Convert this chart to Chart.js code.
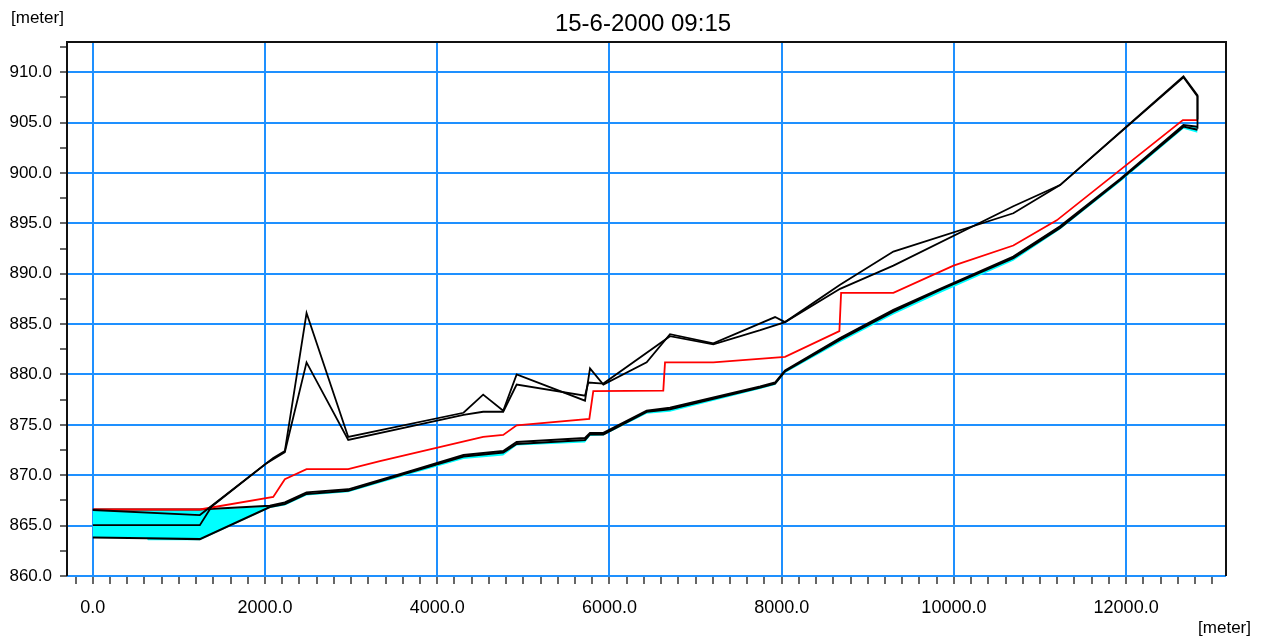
<!DOCTYPE html>
<html>
<head>
<meta charset="utf-8">
<script src="https://cdn.jsdelivr.net/npm/chart.js@4/dist/chart.umd.min.js"></script>
<style>
html,body{margin:0;padding:0;background:#fff;}
#wrap{width:1265px;height:641px;position:relative;}
</style>
</head>
<body>
<div id="wrap"><canvas id="c" width="1265" height="641"></canvas></div>
<script>
// ---- data (chainage in meter, level in meter) ----
const titleText = "15-6-2000 09:15";
const yUnit = "[meter]";
const xUnit = "[meter]";

const bankAX = [0, 1243, 2095, 2230, 2482, 2966, 4305, 4533, 4766, 4922, 5716, 5774, 5929, 6432, 6703, 7206, 7923, 8039, 8678, 9297, 10690, 11233, 12666, 12829, 12829];
const bankAY = [866.55, 866.05, 871.7, 872.4, 886.1, 873.8, 876.2, 878.0, 876.4, 880.0, 877.4, 880.6, 879.0, 881.2, 884.0, 883.1, 885.7, 885.2, 888.9, 892.2, 896.0, 898.8, 909.6, 907.7, 904.4];

const bankBX = [0, 1243, 1380, 2018, 2230, 2482, 2966, 4305, 4533, 4766, 4922, 5716, 5754, 5929, 6703, 7206, 7751, 8039, 8678, 9297, 10690, 11233, 12666, 12829, 12829];
const bankBY = [865.05, 865.05, 866.9, 871.2, 872.3, 881.2, 873.5, 876.0, 876.3, 876.3, 879.0, 877.9, 879.2, 879.1, 883.8, 883.0, 884.4, 885.2, 888.5, 890.8, 896.7, 898.8, 909.5, 907.6, 905.3];

const waterX = [0, 1243, 2095, 2230, 2482, 2966, 3334, 4533, 4766, 4922, 5766, 5812, 6625, 6645, 7206, 8039, 8670, 8690, 9297, 9995, 10690, 11194, 12659, 12829];
const waterY = [866.6, 866.6, 867.85, 869.6, 870.6, 870.6, 871.4, 873.8, 874.0, 874.95, 875.6, 878.35, 878.4, 881.2, 881.2, 881.75, 884.3, 888.1, 888.1, 890.8, 892.8, 895.3, 905.25, 905.25];

const bed1X = [0, 1243, 2056, 2230, 2482, 2966, 3683, 4305, 4766, 4922, 5716, 5774, 5929, 6432, 6703, 7751, 7923, 8039, 8678, 9297, 9840, 10690, 11233, 11931, 12666, 12829];
const bed1Y = [866.6, 866.6, 866.97, 867.3, 868.3, 868.6, 870.4, 872.0, 872.4, 873.3, 873.7, 874.2, 874.2, 876.4, 876.7, 878.8, 879.2, 880.4, 883.6, 886.4, 888.5, 891.7, 894.7, 899.4, 904.75, 904.6];

const bed2X = [0, 620, 1243, 2056, 2230, 2482, 2966, 3683, 4305, 4766, 4922, 5716, 5774, 5929, 6432, 6703, 7751, 7923, 8039, 8678, 9297, 9840, 10690, 11233, 11931, 12666, 12829];
const bed2Y = [863.83, 863.75, 863.66, 866.85, 867.15, 868.15, 868.45, 870.3, 871.85, 872.25, 873.1, 873.5, 874.05, 874.05, 876.3, 876.55, 878.7, 879.1, 880.3, 883.45, 886.25, 888.4, 891.55, 894.55, 899.3, 904.6, 904.3];

const fillTopX = [0, 1243, 2056, 2230, 2482, 2966, 3683, 4305, 4766, 4922, 5716, 5774, 5929, 6432, 6703, 7751, 7923, 8039, 8678, 9297, 9840, 10690, 11233, 11931, 12666, 12829];
const fillTopY = [866.5, 866.5, 866.9, 867.15, 868.15, 868.45, 870.3, 871.85, 872.25, 873.1, 873.5, 874.05, 874.05, 876.3, 876.55, 878.7, 879.1, 880.3, 883.45, 886.25, 888.4, 891.55, 894.55, 899.3, 904.6, 904.6];

const fillBotX = [0, 620, 640, 1243, 2056, 2230, 2482, 2966, 3683, 4305, 4766, 4922, 5716, 5774, 5929, 6432, 6703, 7751, 7923, 8039, 8678, 9297, 9840, 10690, 11233, 11931, 12666, 12829];
const fillBotY = [863.83, 863.8, 863.55, 863.55, 866.75, 867.0, 868.0, 868.3, 870.1, 871.6, 871.95, 872.95, 873.25, 873.9, 873.95, 876.1, 876.3, 878.55, 878.95, 880.15, 883.2, 885.95, 888.1, 891.3, 894.4, 899.1, 904.4, 904.0];

const xMin = -300, xMax = 13160, xMinorStep = 200, xMajorStep = 2000;
const yMin = 860, yMax = 913, yMinorStep = 2.5, yMajorStep = 5;

function pts(xs, ys) { return xs.map((x, i) => ({x: x, y: ys[i]})); }
function range(a, b, s) { const r = []; for (let v = a; v <= b + 1e-9; v += s) r.push(Math.round(v * 100) / 100); return r; }
const isMajor = (v, s) => Math.abs(v / s - Math.round(v / s)) < 1e-6;

const FONT = "'Liberation Sans', Arial, sans-serif";
const GRID = 'rgb(30,144,255)';

const framePlugin = {
  id: 'frame',
  beforeDatasetsDraw(chart) {
    const a = chart.chartArea, ctx = chart.ctx;
    ctx.save();
    ctx.strokeStyle = '#111';
    ctx.lineWidth = 2;
    ctx.beginPath();
    ctx.moveTo(a.left, a.bottom);
    ctx.lineTo(a.left, a.top);
    ctx.lineTo(a.right, a.top);
    ctx.lineTo(a.right, a.bottom);
    ctx.stroke();
    ctx.restore();
  },
  afterDraw(chart) {
    const ctx = chart.ctx;
    ctx.save();
    ctx.fillStyle = '#000';
    ctx.textBaseline = 'middle';
    ctx.font = '24px ' + FONT;
    ctx.textAlign = 'center';
    ctx.fillText(titleText, 643, 24);
    ctx.font = '17px ' + FONT;
    ctx.textAlign = 'left';
    ctx.fillText(yUnit, 11, 18);
    ctx.textAlign = 'right';
    ctx.fillText(xUnit, 1251, 628);
    ctx.restore();
  }
};

const lineDs = (label, xs, ys, color, w) => ({
  label, data: pts(xs, ys), borderColor: color, borderWidth: w,
  pointRadius: 0, fill: false, tension: 0
});

new Chart(document.getElementById('c'), {
  type: 'line',
  data: {
    datasets: [
      lineDs('Bank A', bankAX, bankAY, '#000', 1.8),
      lineDs('Bank B', bankBX, bankBY, '#000', 1.8),
      lineDs('Water level', waterX, waterY, 'rgb(255,0,0)', 1.8),
      lineDs('Bed 1', bed1X, bed1Y, '#000', 2),
      lineDs('Bed 2', bed2X, bed2Y, '#000', 2),
      { label: 'Fill top', data: pts(fillTopX, fillTopY), borderColor: 'rgba(0,0,0,0)', borderWidth: 0, pointRadius: 0, fill: false, tension: 0 },
      { label: 'Fill bottom', data: pts(fillBotX, fillBotY), borderColor: 'rgba(0,0,0,0)', borderWidth: 0, pointRadius: 0, fill: '-1', backgroundColor: 'rgb(0,255,255)', tension: 0 }
    ]
  },
  options: {
    responsive: false,
    animation: false,
    events: [],
    layout: { padding: { left: 0, top: 42, right: 39, bottom: 0 } },
    plugins: { legend: { display: false }, tooltip: { enabled: false }, title: { display: false } },
    scales: {
      x: {
        type: 'linear', min: xMin, max: xMax,
        afterBuildTicks(s) { s.ticks = range(-200, 13000, xMinorStep).map(v => ({value: v})); },
        afterFit(s) { s.height = 65; },
        border: { display: false },
        grid: {
          color: c => (c.tick && isMajor(c.tick.value, xMajorStep)) ? GRID : 'rgba(0,0,0,0)',
          lineWidth: c => (c.tick && isMajor(c.tick.value, xMajorStep)) ? 2 : 0,
          tickColor: '#000', tickWidth: 1.2, tickLength: 8, drawTicks: true
        },
        ticks: {
          autoSkip: false, maxRotation: 0, padding: 13, color: '#000',
          font: { family: FONT, size: 18 },
          callback: v => isMajor(v, xMajorStep) ? v.toFixed(1) : ''
        }
      },
      y: {
        type: 'linear', min: yMin, max: yMax,
        afterBuildTicks(s) { s.ticks = range(860, 912.5, yMinorStep).map(v => ({value: v})); },
        afterFit(s) { s.width = 67; },
        border: { display: false },
        grid: {
          color: c => (c.tick && isMajor(c.tick.value, yMajorStep)) ? GRID : 'rgba(0,0,0,0)',
          lineWidth: c => (c.tick && isMajor(c.tick.value, yMajorStep)) ? 2 : 0,
          tickColor: '#000', tickWidth: 1.2, tickLength: 7, drawTicks: true
        },
        ticks: {
          autoSkip: false, padding: 8, color: '#000',
          font: { family: FONT, size: 17 },
          callback: v => isMajor(v, yMajorStep) ? v.toFixed(1) : ''
        }
      }
    }
  },
  plugins: [framePlugin]
});
</script>
</body>
</html>
